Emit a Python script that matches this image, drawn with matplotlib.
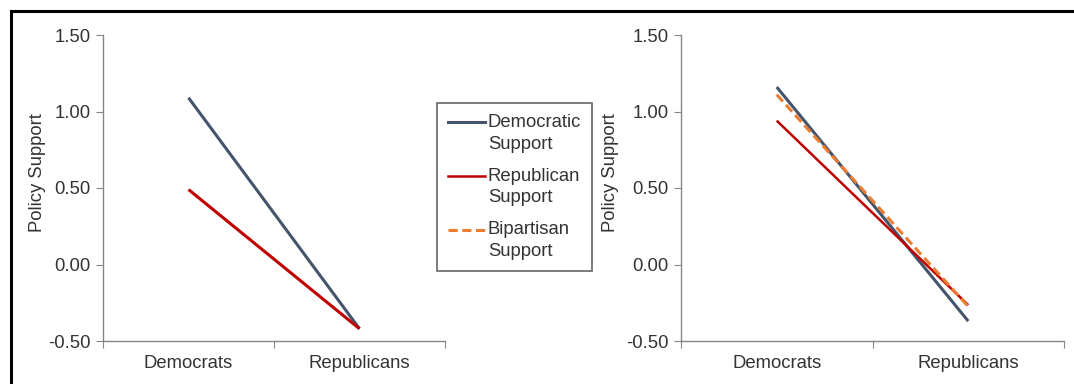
import matplotlib.pyplot as plt
from matplotlib.lines import Line2D
from matplotlib.legend_handler import HandlerLine2D

# data
groups = ['Democrats', 'Republicans']
left_dem = [1.09, -0.42]
left_rep = [0.49, -0.42]
right_dem = [1.16, -0.37]
right_rep = [0.94, -0.265]
right_bip = [1.11, -0.275]
yticks = [-0.5, 0.0, 0.5, 1.0, 1.5]

plt.rcParams['font.family'] = ['Liberation Sans', 'DejaVu Sans']
plt.rcParams['font.size'] = 13.3
text_c = '#333333'
axis_c = '#868686'
c_dem = '#44546A'
c_rep = '#C00000'
c_bip = '#ED7D31'

fig = plt.figure(figsize=(10.74, 3.84), dpi=100)
ax1 = fig.add_axes([103 / 1074, 1 - 341 / 384, 342 / 1074, 306 / 384])
ax2 = fig.add_axes([681 / 1074, 1 - 341 / 384, 383 / 1074, 306 / 384])


def style(ax, label_x):
    x = range(len(groups))
    ax.set_xlim(-0.5, len(groups) - 0.5)
    ax.set_ylim(-0.5, 1.5)
    ax.set_yticks(yticks)
    ax.set_yticklabels(['%.2f' % v for v in yticks], color=text_c)
    ax.set_xticks([i - 0.5 for i in range(len(groups) + 1)])
    ax.set_xticklabels([])
    ax.set_xticks(list(x), minor=True)
    ax.set_xticklabels(groups, minor=True, color=text_c)
    ax.tick_params(axis='x', which='minor', length=0, pad=10)
    ax.tick_params(axis='x', which='major', length=5, color=axis_c, direction='out')
    ax.tick_params(axis='y', length=5, color=axis_c, direction='out', pad=4)
    for s in ['top', 'right']:
        ax.spines[s].set_visible(False)
    for s in ['left', 'bottom']:
        ax.spines[s].set_color(axis_c)
        ax.spines[s].set_linewidth(1)
    ax.set_ylabel('Policy Support', color=text_c)
    ax.yaxis.set_label_coords(label_x, 0.55)


class TopLine(HandlerLine2D):
    # put the legend line next to the first text line
    def create_artists(self, *args, **kwargs):
        arts = super().create_artists(*args, **kwargs)
        for a in arts:
            a.set_ydata([y + 8 for y in a.get_ydata()])
        return arts


x = list(range(len(groups)))
ax1.plot(x, left_dem, color=c_dem, lw=2.2, solid_capstyle='butt')
ax1.plot(x, left_rep, color=c_rep, lw=2.2, solid_capstyle='butt')
style(ax1, -0.168)

ax2.plot(x, right_dem, color=c_dem, lw=2.2, solid_capstyle='butt')
ax2.plot(x, right_rep, color=c_rep, lw=1.8, solid_capstyle='butt')
ax2.plot(x, right_bip, color=c_bip, lw=2.2, ls=(0, (3, 1.5)))
style(ax2, -0.162)

handles = [Line2D([], [], color=c_dem, lw=2.2),
           Line2D([], [], color=c_rep, lw=1.8),
           Line2D([], [], color=c_bip, lw=2.2, ls=(0, (3, 1.5)))]
labels = ['Democratic\nSupport', 'Republican\nSupport', 'Bipartisan\nSupport']
leg = fig.legend(handles, labels, loc='upper left',
                 bbox_to_anchor=(437 / 1074, 1 - 103 / 384),
                 frameon=True, fancybox=False, edgecolor='#404040',
                 handlelength=2.0, handletextpad=0.15, borderpad=0.6,
                 labelspacing=0.82, labelcolor=text_c, borderaxespad=0,
                 handler_map={Line2D: TopLine()})
leg.get_frame().set_linewidth(1.2)
for t in leg.get_texts():
    t.set_linespacing(1.35)

# outer frame (top and left edges visible)
fig.add_artist(Line2D([11 / 1074, 1], [1 - 11 / 384, 1 - 11 / 384],
                      color='black', lw=2.2, transform=fig.transFigure))
fig.add_artist(Line2D([11 / 1074, 11 / 1074], [0, 1 - 11 / 384],
                      color='black', lw=2.2, transform=fig.transFigure))

plt.savefig('out.png', dpi=100)
